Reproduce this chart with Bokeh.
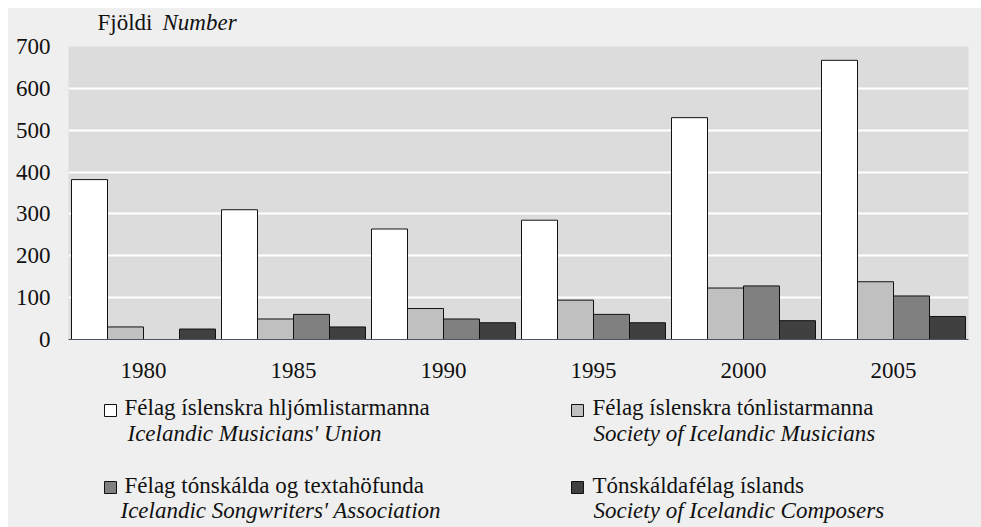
import numpy as np
from bokeh.plotting import figure
from bokeh.models import Range1d, FactorRange, ColumnDataSource, FixedTicker
from bokeh.transform import dodge
from bokeh.layouts import column
from bokeh.embed import file_html
from bokeh.resources import INLINE
from bokeh.core.properties import value

# ---------------- data ----------------
years = ["1980", "1985", "1990", "1995", "2000", "2005"]
musicians_union = [382, 310, 264, 285, 530, 667]
society_musicians = [30, 49, 74, 94, 123, 138]
songwriters = [np.nan, 60, 49, 60, 128, 104]
composers = [25, 30, 40, 40, 45, 55]

series_values = [musicians_union, society_musicians, songwriters, composers]
names_is = ["Félag íslenskra hljómlistarmanna", "Félag íslenskra tónlistarmanna",
            "Félag tónskálda og textahöfunda", "Tónskáldafélag íslands"]
names_en = ["Icelandic Musicians' Union", "Society of Icelandic Musicians",
            "Icelandic Songwriters' Association", "Society of Icelandic Composers"]
colors = ["#ffffff", "#c0c0c0", "#808080", "#404040"]
y_ticks = [0, 100, 200, 300, 400, 500, 600, 700]
axis_title = ["Fjöldi", "Number"]

# ---------------- style ----------------
FONT = "Liberation Serif"
FS = "23px"
TXT = "#111111"
BG = "#efefef"
PLOT_BG = "#dcdcdc"
W = 973
X0, Y0 = 8, 8          # page offset of the whole graphic
BL, BR = 60, 13        # left / right border of every panel
FL, FR = X0 + BL, X0 + W - BR   # page x of frame edges
H0 = 27                # title strip
TOP = 11               # chart border above the frame
H1 = TOP + 293 + 49    # chart
H2 = 527 - Y0 - H0 - H1  # legend strip
MID = 8                # baseline -> middle offset (px)


def no_align(f):
    if "frame_align" in f.properties():
        f.frame_align = False
    return f


def panel(height, top_page):
    f = figure(width=W, height=height, x_range=Range1d(FL, FR),
               y_range=Range1d(top_page + height, top_page),
               output_backend="svg", toolbar_location=None,
               x_axis_location=None, y_axis_location=None,
               min_border_left=BL, min_border_right=BR, min_border_top=0, min_border_bottom=0)
    f.grid.visible = False
    f.outline_line_color = None
    f.background_fill_color = BG
    f.border_fill_color = BG
    return no_align(f)


# ---------------- title strip ----------------
t = panel(H0, Y0)
t.text(x=[97], y=[22], text=[axis_title[0]], text_font=value(FONT), text_font_size=FS,
       text_baseline="middle", text_align="left", text_color=TXT)
t.text(x=[162], y=[22], text=[axis_title[1]], text_font=value(FONT), text_font_size=FS,
       text_font_style="italic", text_baseline="middle", text_align="left", text_color=TXT)

# ---------------- chart ----------------
p = figure(x_range=FactorRange(factors=years, range_padding=0),
           y_range=Range1d(0, 700),
           width=W, height=H1, output_backend="svg", toolbar_location=None,
           min_border_left=BL, min_border_right=BR, min_border_top=TOP,
           min_border_bottom=H1 - TOP - 293)
no_align(p)
p.background_fill_color = PLOT_BG
p.border_fill_color = BG
p.outline_line_color = None
p.xgrid.grid_line_color = None
p.ygrid.grid_line_color = "white"
p.ygrid.grid_line_width = 2
p.ygrid.ticker = FixedTicker(ticks=y_ticks)

p.yaxis.ticker = FixedTicker(ticks=y_ticks)
p.yaxis.axis_line_color = None
p.yaxis.major_tick_line_color = None
p.yaxis.minor_tick_line_color = None
p.yaxis.major_label_standoff = 12
p.xaxis.axis_line_color = "#4b5566"
p.xaxis.axis_line_width = 1
p.xaxis.major_tick_line_color = None
p.xaxis.minor_tick_line_color = None
p.xaxis.major_label_standoff = 17
for ax in (p.xaxis, p.yaxis):
    ax.major_label_text_font = FONT
    ax.major_label_text_font_size = FS
    ax.major_label_text_color = TXT

offsets = [-0.36, -0.12, 0.12, 0.36]
for vals, off, col in zip(series_values, offsets, colors):
    src = ColumnDataSource(dict(x=years, top=np.array(vals, dtype=float)))
    p.vbar(x=dodge("x", off, range=p.x_range), top="top", width=0.24,
           fill_color=col, line_color=TXT, line_width=1, source=src)

# ---------------- legend strip (page-pixel coordinates) ----------------
q = panel(H2, Y0 + H0 + H1)
sq_x = [110, 577, 110, 577]
sq_y = [410, 410, 487, 487]
txt_x = [124, 592, 124, 592]
txt_y = [415, 415, 493, 493]
it_x = [127, 593, 120, 593]
it_y = [441, 441, 518, 518]

q.rect(x=sq_x, y=sq_y, width=12, height=12, fill_color=colors,
       line_color=TXT, line_width=1)
q.text(x=txt_x, y=[v - MID for v in txt_y], text=names_is, text_font=value(FONT),
       text_font_size=FS, text_baseline="middle", text_align="left", text_color=TXT)
q.text(x=it_x, y=[v - MID for v in it_y], text=names_en, text_font=value(FONT),
       text_font_size=FS, text_font_style="italic", text_baseline="middle",
       text_align="left", text_color=TXT)

layout = column(t, p, q, spacing=0, margin=(Y0, 0, 0, X0),
                styles={"background-color": BG})
open("out.html", "w").write(file_html(layout, INLINE))
